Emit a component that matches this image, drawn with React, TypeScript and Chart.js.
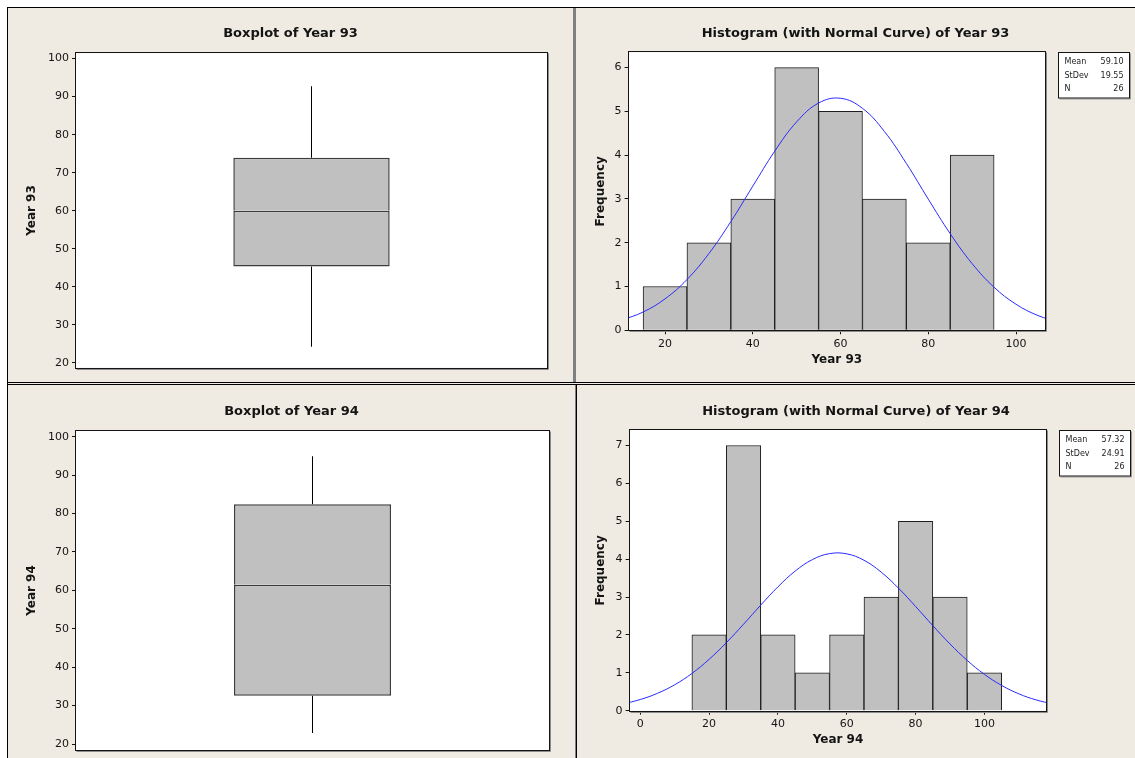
import React, { useEffect, useRef } from 'react';
import { Chart, registerables } from 'chart.js';

Chart.register(...registerables);

const FONT = "'DejaVu Sans', Verdana, sans-serif";
const INK = '#141414';
const PANEL = '#EFEBE2';

// ---- data ----
const boxLabel93 = ['Year 93'];
const boxLabel94 = ['Year 94'];
// min whisker, Q1, median, Q3, max whisker
const boxStats93 = [24.2, 45.3, 60.0, 73.9, 92.7];
const boxStats94 = [22.9, 32.6, 61.5, 82.4, 94.9];
const boxTicks = [20, 30, 40, 50, 60, 70, 80, 90, 100];

const binMid93 = [20, 30, 40, 50, 60, 70, 80, 90];
const freq93 = [1, 2, 3, 6, 5, 3, 2, 4];
const binMid94 = [20, 30, 40, 50, 60, 70, 80, 90, 100];
const freq94 = [2, 7, 2, 1, 2, 3, 5, 3, 1];

const curveX93 = [10, 15, 20, 25, 30, 35, 40, 45, 50, 55, 60, 65, 70, 75, 80, 85, 90, 95, 100, 105, 110];
const curveY93 = [0.227, 0.417, 0.718, 1.159, 1.753, 2.482, 3.292, 4.091, 4.761, 5.191, 5.300, 5.070, 4.542, 3.812, 2.996, 2.206, 1.522, 0.983, 0.595, 0.337, 0.179];
const curveX94 = [-5, 0, 5, 10, 15, 20, 25, 30, 35, 40, 45, 50, 55, 60, 65, 70, 75, 80, 85, 90, 95, 100, 105, 110, 115, 120];
const curveY94 = [0.182, 0.295, 0.459, 0.685, 0.983, 1.356, 1.795, 2.282, 2.787, 3.270, 3.685, 3.988, 4.146, 4.140, 3.971, 3.658, 3.237, 2.751, 2.246, 1.761, 1.327, 0.959, 0.667, 0.445, 0.285, 0.176];

const histXTicks93 = [20, 40, 60, 80, 100];
const histYTicks93 = [0, 1, 2, 3, 4, 5, 6];
const histXTicks94 = [0, 20, 40, 60, 80, 100];
const histYTicks94 = [0, 1, 2, 3, 4, 5, 6, 7];

const statNames = ['Mean', 'StDev', 'N'];
const statValues93 = ['59.10', '19.55', '26'];
const statValues94 = ['57.32', '24.91', '26'];

// ---- plugins ----
const framePlugin = {
  id: 'plotFrame',
  beforeDraw(chart: any) {
    const { ctx, chartArea: a } = chart;
    ctx.save();
    ctx.fillStyle = '#ffffff';
    ctx.fillRect(a.left, a.top, a.right - a.left, a.bottom - a.top);
    ctx.restore();
  },
  afterDraw(chart: any) {
    const { ctx, chartArea: a } = chart;
    const l = Math.round(a.left) - 0.5;
    const t = Math.round(a.top) - 0.5;
    const r = Math.round(a.right) + 0.5;
    const b = Math.round(a.bottom) + 0.5;
    ctx.save();
    ctx.lineWidth = 1;
    ctx.strokeStyle = '#8c8c8c';
    ctx.beginPath();
    ctx.moveTo(r + 1, t + 1);
    ctx.lineTo(r + 1, b + 1);
    ctx.lineTo(l + 1, b + 1);
    ctx.stroke();
    ctx.strokeStyle = INK;
    ctx.strokeRect(l, t, r - l, b - t);
    ctx.restore();
  },
};

const statsPlugin = {
  id: 'statsBox',
  afterDraw(chart: any, _args: any, opts: any) {
    if (!opts || !opts.values) return;
    const { ctx, chartArea: a } = chart;
    const x = Math.round(a.right + opts.gap) + 0.5;
    const y = Math.round(a.top) + 0.5;
    const w = opts.width;
    const h = opts.height;
    ctx.save();
    ctx.fillStyle = '#ffffff';
    ctx.fillRect(x, y, w, h);
    ctx.strokeStyle = '#9a9a9a';
    ctx.beginPath();
    ctx.moveTo(x + w + 1, y + 1);
    ctx.lineTo(x + w + 1, y + h + 1);
    ctx.lineTo(x + 1, y + h + 1);
    ctx.stroke();
    ctx.strokeStyle = INK;
    ctx.strokeRect(x, y, w, h);
    ctx.font = `8px ${FONT}`;
    ctx.fillStyle = '#222';
    ctx.textBaseline = 'middle';
    opts.labels.forEach((lab: string, i: number) => {
      const ty = y + 9.5 + i * 13.6;
      ctx.textAlign = 'left';
      ctx.fillText(lab, x + 6, ty);
      ctx.textAlign = 'right';
      ctx.fillText(opts.values[i], x + w - 6, ty);
    });
    ctx.restore();
  },
};

const tickFont = { family: FONT, size: 11 };
const axisTitleFont = { family: FONT, size: 12, weight: 'bold' as const };
const titleFont = { family: FONT, size: 13, weight: 'bold' as const };

function fixedTicks(values: number[]) {
  return (scale: any) => {
    scale.ticks = values.map((v) => ({ value: v }));
  };
}

function yAxis(min: number, max: number, ticks: number[], width: number, title: string, titlePad: number) {
  return {
    type: 'linear',
    position: 'left',
    min,
    max,
    afterBuildTicks: fixedTicks(ticks),
    afterFit: (s: any) => {
      s.width = width;
      s.paddingTop = 0;
      s.paddingBottom = 0;
    },
    ticks: { font: tickFont, color: INK, padding: 3, autoSkip: false },
    grid: { drawOnChartArea: false, drawTicks: true, tickLength: 4, color: INK },
    border: { display: false },
    title: { display: true, text: title, font: axisTitleFont, color: INK, padding: { top: titlePad, bottom: 0 } },
  };
}

function rightSpace(width: number) {
  return {
    type: 'linear',
    position: 'right',
    display: true,
    afterFit: (s: any) => {
      s.width = width;
      s.paddingTop = 0;
      s.paddingBottom = 0;
    },
    ticks: { display: false },
    grid: { display: false },
    border: { display: false },
  };
}

function boxConfig(p: {
  labels: string[];
  stats: number[];
  min: number;
  max: number;
  yWidth: number;
  yTitlePad: number;
  rightW: number;
  padBottom: number;
  titleTop: number;
  titleBottom: number;
}) {
  const [lo, q1, med, q3, hi] = p.stats;
  const boxStyle = {
    backgroundColor: '#c0c0c0',
    borderColor: '#3c3c3c',
    borderWidth: 1.5,
    barPercentage: 0.332,
    categoryPercentage: 1,
    grouped: false,
  };
  const whiskerStyle = {
    backgroundColor: '#000000',
    borderWidth: 0,
    barThickness: 1,
    inflateAmount: 0,
    grouped: false,
  };
  return {
    type: 'bar',
    data: {
      labels: p.labels,
      datasets: [
        { ...boxStyle, data: [[q1, med]], borderSkipped: false },
        { ...boxStyle, data: [[med, q3]], borderSkipped: 'start' },
        { ...whiskerStyle, data: [[q3, hi]] },
        { ...whiskerStyle, data: [[lo, q1]] },
      ],
    },
    options: {
      responsive: false,
      animation: false,
      devicePixelRatio: 1,
      events: [],
      layout: { padding: { left: 0, right: 0, top: 0, bottom: p.padBottom } },
      plugins: {
        legend: { display: false },
        tooltip: { enabled: false },
        title: {
          display: true,
          text: 'Boxplot of ' + p.labels[0],
          font: titleFont,
          color: INK,
          padding: { top: p.titleTop, bottom: p.titleBottom },
        },
      },
      scales: {
        x: { display: false, offset: true },
        y: yAxis(p.min, p.max, boxTicks, p.yWidth, p.labels[0], p.yTitlePad),
        yRight: rightSpace(p.rightW),
      },
    },
    plugins: [framePlugin],
  };
}

function histConfig(p: {
  name: string;
  mids: number[];
  freq: number[];
  cx: number[];
  cy: number[];
  xTicks: number[];
  yTicks: number[];
  xMin: number;
  xMax: number;
  yMax: number;
  yWidth: number;
  yTitlePad: number;
  xHeight: number;
  xTitlePad: number;
  rightW: number;
  titleTop: number;
  titleBottom: number;
  stats: string[];
}) {
  return {
    type: 'bar',
    data: {
      datasets: [
        {
          type: 'line',
          data: p.cx.map((x, i) => ({ x, y: p.cy[i] })),
          borderColor: '#2a2aff',
          borderWidth: 1,
          pointRadius: 0,
          tension: 0.4,
          fill: false,
          order: 0,
        },
        {
          type: 'bar',
          data: p.mids.map((x, i) => ({ x, y: p.freq[i] })),
          backgroundColor: '#c0c0c0',
          borderColor: '#1e1e1e',
          borderWidth: 1,
          barPercentage: 1,
          categoryPercentage: 1,
          order: 1,
        },
      ],
    },
    options: {
      responsive: false,
      animation: false,
      devicePixelRatio: 1,
      events: [],
      layout: { padding: 0 },
      plugins: {
        legend: { display: false },
        tooltip: { enabled: false },
        title: {
          display: true,
          text: 'Histogram (with Normal Curve) of ' + p.name,
          font: titleFont,
          color: INK,
          padding: { top: p.titleTop, bottom: p.titleBottom },
        },
        statsBox: { labels: statNames, values: p.stats, gap: 12.5, width: 71, height: 45.5 },
      },
      scales: {
        x: {
          type: 'linear',
          position: 'bottom',
          min: p.xMin,
          max: p.xMax,
          offset: false,
          afterBuildTicks: fixedTicks(p.xTicks),
          afterFit: (s: any) => {
            s.height = p.xHeight;
            s.paddingLeft = 0;
            s.paddingRight = 0;
          },
          ticks: { font: tickFont, color: INK, padding: 3, autoSkip: false, maxRotation: 0 },
          grid: { offset: false, drawOnChartArea: false, drawTicks: true, tickLength: 4, color: INK },
          border: { display: false },
          title: { display: true, text: p.name, font: axisTitleFont, color: INK, padding: { top: 0, bottom: p.xTitlePad } },
        },
        y: yAxis(0, p.yMax, p.yTicks, p.yWidth, 'Frequency', p.yTitlePad),
        yRight: rightSpace(p.rightW),
      },
    },
    plugins: [framePlugin, statsPlugin],
  };
}

function ChartCanvas(props: { left: number; top: number; width: number; height: number; config: any }) {
  const ref = useRef<HTMLCanvasElement>(null);
  useEffect(() => {
    const chart = new Chart(ref.current as HTMLCanvasElement, props.config);
    return () => chart.destroy();
  }, []);
  return (
    <canvas
      ref={ref}
      width={props.width}
      height={props.height}
      style={{ position: 'absolute', left: props.left, top: props.top, width: props.width, height: props.height, background: PANEL }}
    />
  );
}

function Rect(props: { l: number; t: number; w: number; h: number; c: string }) {
  return <div style={{ position: 'absolute', left: props.l, top: props.t, width: props.w, height: props.h, background: props.c }} />;
}

export default function App() {
  const tl = boxConfig({
    labels: boxLabel93, stats: boxStats93, min: 18.7, max: 101.4,
    yWidth: 68, yTitlePad: 16.8, rightW: 26, padBottom: 14.3, titleTop: 18.2, titleBottom: 11.5,
  });
  const bl = boxConfig({
    labels: boxLabel94, stats: boxStats94, min: 18.45, max: 101.5,
    yWidth: 68, yTitlePad: 16.8, rightW: 26, padBottom: 8, titleTop: 18.9, titleBottom: 11.5,
  });
  const tr = histConfig({
    name: 'Year 93', mids: binMid93, freq: freq93, cx: curveX93, cy: curveY93,
    xTicks: histXTicks93, yTicks: histYTicks93, xMin: 11.7, xMax: 106.6, yMax: 6.35,
    yWidth: 52.6, yTitlePad: 17.8, xHeight: 51.7, xTitlePad: 14.8, rightW: 90,
    titleTop: 18.2, titleBottom: 10.5, stats: statValues93,
  });
  const br = histConfig({
    name: 'Year 94', mids: binMid94, freq: freq94, cx: curveX94, cy: curveY94,
    xTicks: histXTicks94, yTicks: histYTicks94, xMin: -3.1, xMax: 118, yMax: 7.41,
    yWidth: 52.6, yTitlePad: 16.4, xHeight: 47.3, xTitlePad: 10.8, rightW: 88.6,
    titleTop: 18.9, titleBottom: 10.5, stats: statValues94,
  });
  return (
    <div style={{ position: 'absolute', left: 0, top: 0, width: 1135, height: 758, background: '#ffffff', overflow: 'hidden', fontFamily: FONT }}>
      <Rect l={7} t={7} w={1128} h={1} c="#000" />
      <Rect l={7} t={7} w={1} h={751} c="#000" />
      <Rect l={573} t={8} w={3} h={374} c="#808080" />
      <Rect l={7} t={382} w={1128} h={1} c="#000" />
      <Rect l={8} t={383} w={1127} h={1} c={PANEL} />
      <Rect l={7} t={384} w={1128} h={1} c="#000" />
      <Rect l={575} t={385} w={1} h={373} c="#808080" />
      <Rect l={576} t={385} w={1} h={373} c="#000" />
      <ChartCanvas left={8} top={8} width={565} height={374} config={tl} />
      <ChartCanvas left={576} top={8} width={559} height={374} config={tr} />
      <ChartCanvas left={8} top={385} width={567} height={373} config={bl} />
      <ChartCanvas left={577} top={385} width={558} height={373} config={br} />
    </div>
  );
}
